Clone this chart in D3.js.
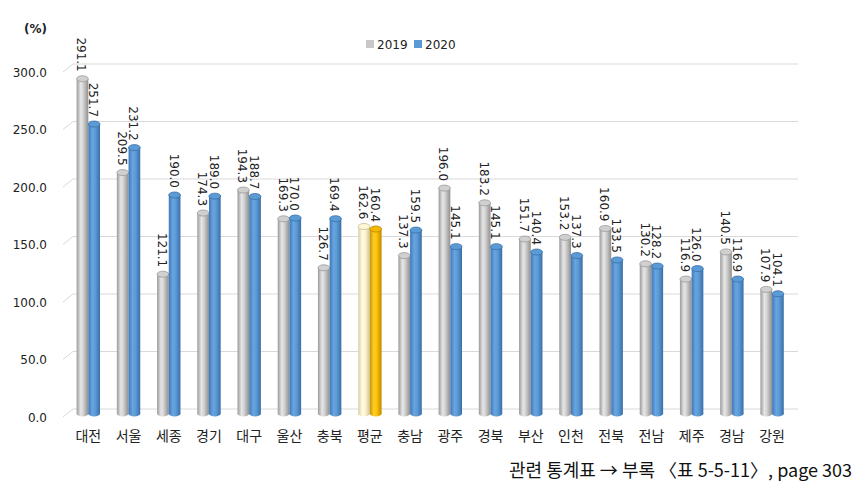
<!DOCTYPE html>
<html><head><meta charset="utf-8">
<script src="https://cdn.jsdelivr.net/npm/d3@7"></script>
<style>body{margin:0;background:#fff}svg{display:block}</style>
</head><body>
<svg id="chart" width="866" height="493"></svg>
<script>
const categories = ["대전","서울","세종","경기","대구","울산","충북","평균","충남","광주","경북","부산","인천","전북","전남","제주","경남","강원"];
const values2019 = [291.1,209.5,121.1,174.3,194.3,169.3,126.7,162.6,137.3,196.0,183.2,151.7,153.2,160.9,130.2,116.9,140.5,107.9];
const values2020 = [251.7,231.2,190.0,189.0,188.7,170.0,169.4,160.4,159.5,145.1,145.1,140.4,137.3,133.5,128.2,126.0,116.9,104.1];
const seriesNames = ["2019","2020"];
const yTicks = [0,50,100,150,200,250,300];
const highlight = "평균";

const svg = d3.select("#chart");
const num = "'DejaVu Sans', Verdana, sans-serif";
const kr = "'Noto Sans CJK KR', 'Noto Sans', sans-serif";

const x = d3.scaleBand().domain(categories).range([68.2, 792.2]).paddingInner(0).paddingOuter(0);
const y = d3.scaleLinear().domain([0,300]).range([417, 72]);
const barW = 11.7, ry = 3, barShift = 3.5;

const defs = svg.append("defs");
function grad(id, stops){
  const g = defs.append("linearGradient").attr("id", id).attr("x1","0").attr("x2","1").attr("y1","0").attr("y2","0");
  stops.forEach(([o,c]) => g.append("stop").attr("offset", o).attr("stop-color", c));
}
grad("gGray", [[0,"#9a9a9a"],[0.35,"#e6e6e6"],[0.55,"#d4d4d4"],[1,"#8f8f8f"]]);
grad("gBlue", [[0,"#3f78b8"],[0.35,"#69a5e0"],[0.6,"#5b9bd5"],[1,"#3a6ea8"]]);
grad("gCream", [[0,"#d9cfa6"],[0.35,"#fffbe6"],[0.6,"#fff5cf"],[1,"#cfc39a"]]);
grad("gGold", [[0,"#c99500"],[0.35,"#ffcf2e"],[0.6,"#ffc000"],[1,"#b98900"]]);

const grid = svg.append("g");
yTicks.forEach(v => {
  const yy = y(v);
  grid.append("line").attr("x1",73).attr("x2",798).attr("y1",yy-8).attr("y2",yy-8)
    .attr("stroke","#d9d9d9").attr("stroke-width",1);
  grid.append("line").attr("x1",63).attr("x2",73).attr("y1",yy).attr("y2",yy-8)
    .attr("stroke","#d9d9d9").attr("stroke-width",1);
});

const yAxis = svg.append("g").attr("transform","translate(47,0)")
  .call(d3.axisLeft(y).tickValues(yTicks).tickFormat(d3.format(".1f")).tickSize(0).tickPadding(0));
yAxis.select(".domain").remove();
yAxis.selectAll("text").attr("font-family", num).attr("font-size", 12).attr("fill","#222").attr("dy","0.35em");

svg.append("text").attr("x",47).attr("y",33).attr("text-anchor","end")
  .attr("font-family", num).attr("font-size",12).attr("font-weight","bold").attr("fill","#222").text("(%)");

function cyl(g, cx, v, fillId, topFill, edge){
  const top = y(v) - barShift, bot = y(0) - barShift;
  g.append("rect").attr("x", cx - barW/2).attr("y", top).attr("width", barW).attr("height", bot-top)
    .attr("fill", `url(#${fillId})`);
  g.append("ellipse").attr("cx", cx).attr("cy", bot).attr("rx", barW/2).attr("ry", ry).attr("fill", `url(#${fillId})`);
  g.append("ellipse").attr("cx", cx).attr("cy", top).attr("rx", barW/2).attr("ry", ry)
    .attr("fill", topFill).attr("stroke", edge).attr("stroke-width", 0.8);
}
const bars = svg.append("g");
categories.forEach((c,i) => {
  const center = x(c) + x.bandwidth()/2;
  const gx = center - barW/2, bx = center + barW/2;
  const hl = c === highlight;
  cyl(bars, gx, values2019[i], hl ? "gCream" : "gGray", hl ? "#fff8d8" : "#d0d0d0", hl ? "#c8bd90" : "#9a9a9a");
  cyl(bars, bx, values2020[i], hl ? "gGold" : "gBlue", hl ? "#f5b800" : "#5b9bd5", hl ? "#b38600" : "#3a6ea8");
});

const labels = svg.append("g").attr("font-family", num).attr("font-size", 12).attr("fill","#222");
categories.forEach((c,i) => {
  const center = x(c) + x.bandwidth()/2;
  [[values2019[i], center - barW/2 - 1],[values2020[i], center + barW/2 - 1]].forEach(([v,cx]) => {
    const ty = y(v) - barShift - 7;
    labels.append("text").attr("transform", `translate(${cx},${ty}) rotate(90)`)
      .attr("text-anchor","end").attr("dominant-baseline","central").text(d3.format(".1f")(v));
  });
});

const xAxis = svg.append("g").attr("transform","translate(0,431)")
  .call(d3.axisBottom(x).tickSize(0).tickPadding(0));
xAxis.select(".domain").remove();
xAxis.selectAll("text").attr("font-family", kr).attr("font-size", 14).attr("fill","#222").attr("dy","0.71em");

const legend = svg.append("g").attr("font-family", num).attr("font-size", 12).attr("fill","#222");
const legendItems = [[seriesNames[0], "#c8c8c8", 366],[seriesNames[1], "#5b9bd5", 414]];
legendItems.forEach(([t,col,lx]) => {
  legend.append("rect").attr("x", lx).attr("y", 40).attr("width", 8).attr("height", 8).attr("fill", col);
  legend.append("text").attr("x", lx + 11).attr("y", 48.5).text(t);
});

svg.append("text").attr("x", 852).attr("y", 477).attr("text-anchor","end")
  .attr("font-family", kr).attr("font-size", 18).attr("fill","#111")
  .text("관련 통계표 → 부록 〈표 5-5-11〉, page 303");
</script>
</body></html>
